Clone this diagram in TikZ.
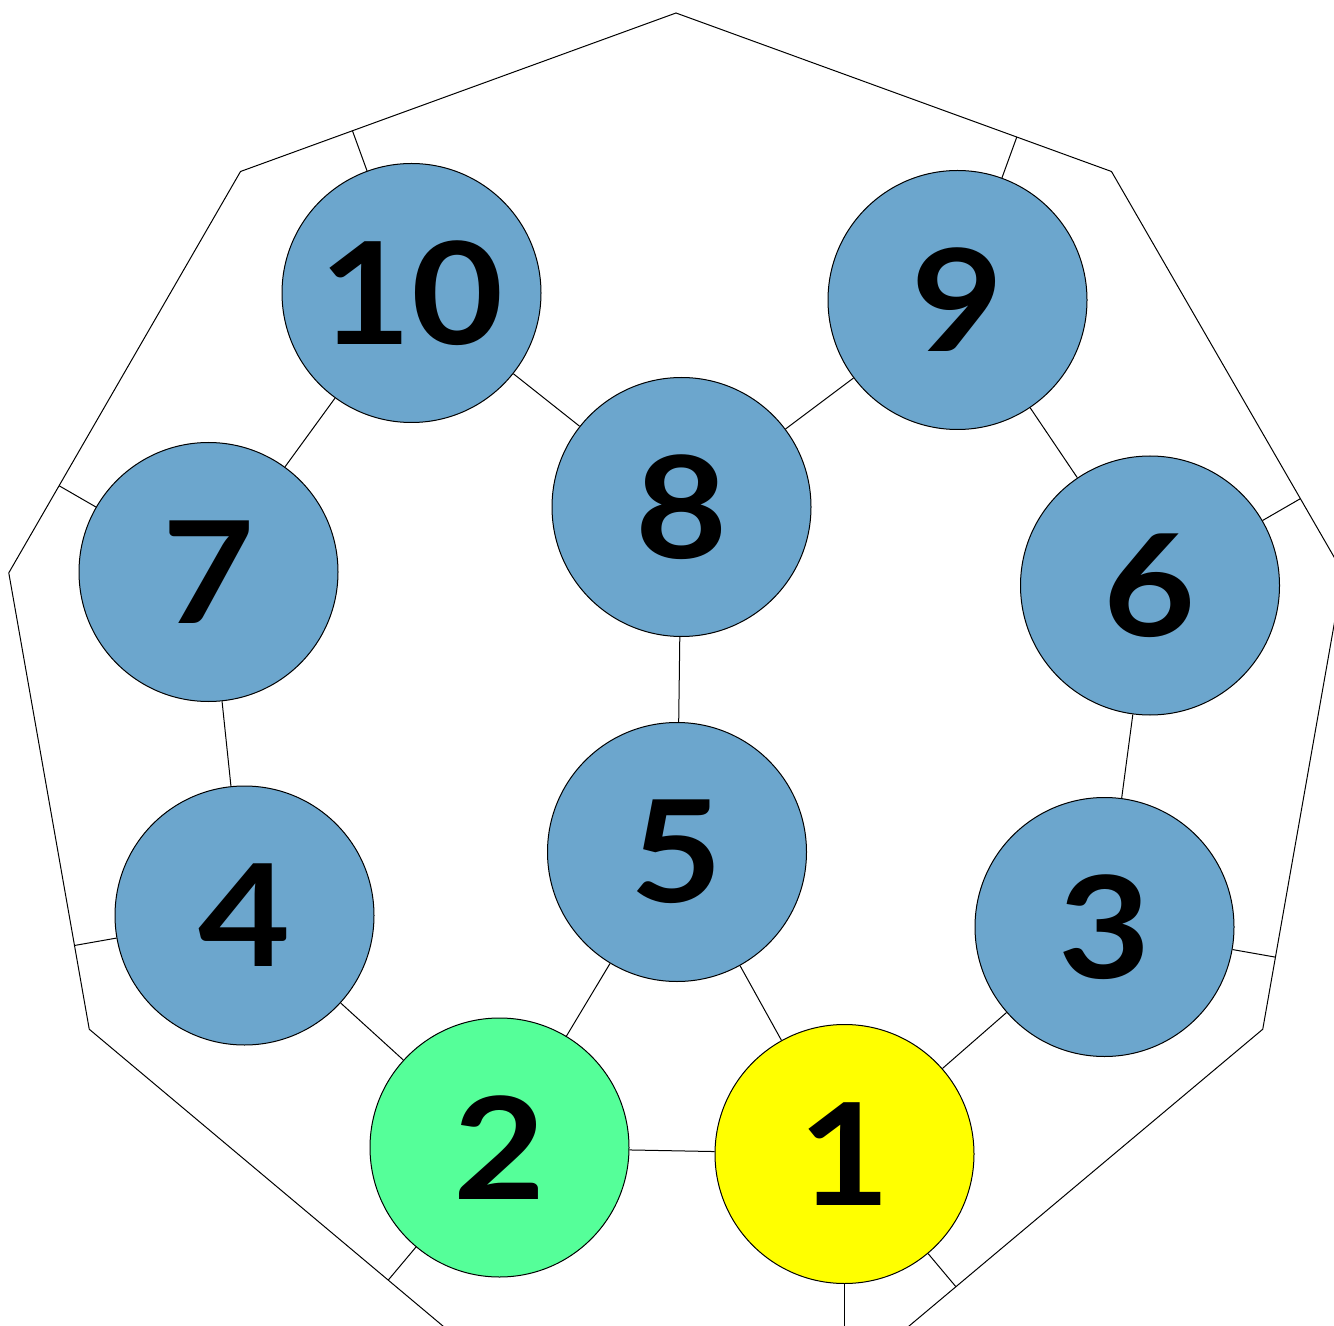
\documentclass[tikz,border=0pt]{standalone}
\usepackage{fontspec}
\newfontfamily\numfont{Lato}[FakeStretch=1.12]
\usetikzlibrary{calc}
\definecolor{nodeblue}{RGB}{108,166,205}
\definecolor{nodegreen}{RGB}{85,255,153}
\definecolor{nodeyellow}{RGB}{255,255,0}
\begin{document}
\begin{tikzpicture}[x=0.5pt,y=-0.5pt,line width=0.5pt,
  vtx/.style={circle,draw=black,line width=0.5pt,minimum size=129.5pt,inner sep=0pt,
    fill=nodeblue,font=\numfont\bfseries\fontsize{71}{71}\selectfont},
  link/.style={draw=black,line width=0.5pt}]
\useasboundingbox (0,0) rectangle (1334,1326);
\clip (0,0) rectangle (1334,1326);
\foreach \i in {0,...,8}
  \coordinate (p\i) at ({676+677.5*cos(90-40*\i)},{690.5-677.5*sin(90-40*\i)});
\draw[link] (p0)--(p1)--(p2)--(p3)--(p4)--(p5)--(p6)--(p7)--(p8)--cycle;

\node[vtx] (n10) at (411.5,293) {10};
\node[vtx] (n9) at (957.5,300) {9};
\node[vtx] (n8) at (681.5,507) {8};
\node[vtx] (n7) at (208.5,572) {7};
\node[vtx] (n6) at (1150,585.5) {6};
\node[vtx] (n5) at (677,852) {5};
\node[vtx] (n4) at (244.5,915.5) {4};
\node[vtx] (n3) at (1104.5,927) {3};
\node[vtx,fill=nodegreen] (n2) at (499.5,1147.5) {2};
\node[vtx,fill=nodeyellow] (n1) at (844.5,1154) {1};

\draw[link] (n10)--(n8) (n8)--(n9) (n10)--(n7) (n9)--(n6) (n8)--(n5)
  (n7)--(n4) (n6)--(n3) (n5)--(n2) (n5)--(n1) (n4)--(n2) (n3)--(n1) (n2)--(n1);

\draw[link] (n10)--($(p8)!(n10)!(p0)$);
\draw[link] (n9)--($(p0)!(n9)!(p1)$);
\draw[link] (n6)--($(p1)!(n6)!(p2)$);
\draw[link] (n3)--($(p2)!(n3)!(p3)$);
\draw[link] (n1)--($(p3)!(n1)!(p4)$);
\draw[link] (n1)--($(p4)!(n1)!(p5)$);
\draw[link] (n2)--($(p5)!(n2)!(p6)$);
\draw[link] (n4)--($(p6)!(n4)!(p7)$);
\draw[link] (n7)--($(p7)!(n7)!(p8)$);
\end{tikzpicture}
\end{document}
